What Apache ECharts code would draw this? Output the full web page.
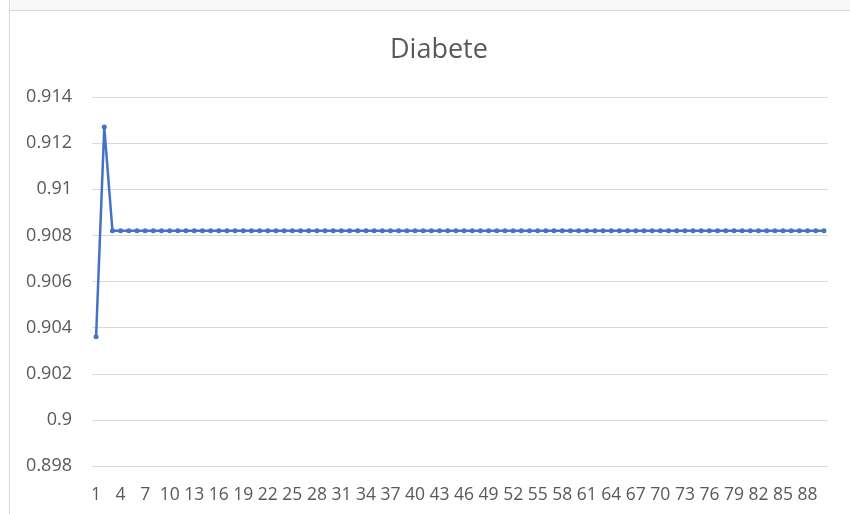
<!DOCTYPE html>
<html>
<head>
<meta charset="utf-8">
<script src="https://cdn.jsdelivr.net/npm/echarts@6/dist/echarts.min.js"></script>
<style>
html,body{margin:0;padding:0;background:#fff;}
#main{width:850px;height:514px;}
</style>
</head>
<body>
<div id="main"></div>
<script>
// 图表数据
var titleText = 'Diabete';
var categories = [];
for (var i = 1; i <= 90; i++) { categories.push(String(i)); }
var values = [
  0.9036, 0.9127, 0.9082, 0.9082, 0.9082, 0.9082, 0.9082, 0.9082, 0.9082, 0.9082,
  0.9082, 0.9082, 0.9082, 0.9082, 0.9082, 0.9082, 0.9082, 0.9082, 0.9082, 0.9082,
  0.9082, 0.9082, 0.9082, 0.9082, 0.9082, 0.9082, 0.9082, 0.9082, 0.9082, 0.9082,
  0.9082, 0.9082, 0.9082, 0.9082, 0.9082, 0.9082, 0.9082, 0.9082, 0.9082, 0.9082,
  0.9082, 0.9082, 0.9082, 0.9082, 0.9082, 0.9082, 0.9082, 0.9082, 0.9082, 0.9082,
  0.9082, 0.9082, 0.9082, 0.9082, 0.9082, 0.9082, 0.9082, 0.9082, 0.9082, 0.9082,
  0.9082, 0.9082, 0.9082, 0.9082, 0.9082, 0.9082, 0.9082, 0.9082, 0.9082, 0.9082,
  0.9082, 0.9082, 0.9082, 0.9082, 0.9082, 0.9082, 0.9082, 0.9082, 0.9082, 0.9082,
  0.9082, 0.9082, 0.9082, 0.9082, 0.9082, 0.9082, 0.9082, 0.9082, 0.9082, 0.9082
];
var yMin = 0.898, yMax = 0.914, yStep = 0.002;

var chart = echarts.init(document.getElementById('main'));
var font = '"Open Sans", "Noto Sans", sans-serif';

var option = {
  animation: false,
  graphic: [
    { type: 'rect', shape: { x: 9, y: 0, width: 841, height: 10 }, style: { fill: '#f8f8f8' }, silent: true },
    { type: 'line', shape: { x1: 9, y1: 10.5, x2: 850, y2: 10.5 }, style: { stroke: '#d9d9d9', lineWidth: 1 }, silent: true },
    { type: 'line', shape: { x1: 9.5, y1: 0, x2: 9.5, y2: 514 }, style: { stroke: '#d9d9d9', lineWidth: 1 }, silent: true }
  ],
  title: {
    text: titleText,
    left: 385,
    top: 32,
    textStyle: { color: '#595959', fontSize: 27, fontWeight: 'normal', fontFamily: font }
  },
  grid: { left: 92, right: 22, top: 97, bottom: 48 },
  xAxis: {
    type: 'category',
    data: categories,
    boundaryGap: true,
    axisLine: { show: false },
    axisTick: { show: false },
    axisLabel: { interval: 2, color: '#595959', fontSize: 17.5, fontFamily: font, margin: 20, hideOverlap: false }
  },
  yAxis: {
    type: 'value',
    min: yMin,
    max: yMax,
    interval: yStep,
    axisLine: { show: false },
    axisTick: { show: false },
    splitLine: { lineStyle: { color: '#d9d9d9', width: 1 } },
    axisLabel: {
      color: '#595959', fontSize: 18, fontFamily: font, margin: 20,
      formatter: function (v) { return String(parseFloat(v.toFixed(3))); }
    }
  },
  series: [{
    type: 'line',
    data: values,
    symbol: 'circle',
    symbolSize: 5,
    lineStyle: { color: '#4472C4', width: 2.5 },
    itemStyle: { color: '#4472C4' }
  }]
};
chart.setOption(option);
</script>
</body>
</html>
